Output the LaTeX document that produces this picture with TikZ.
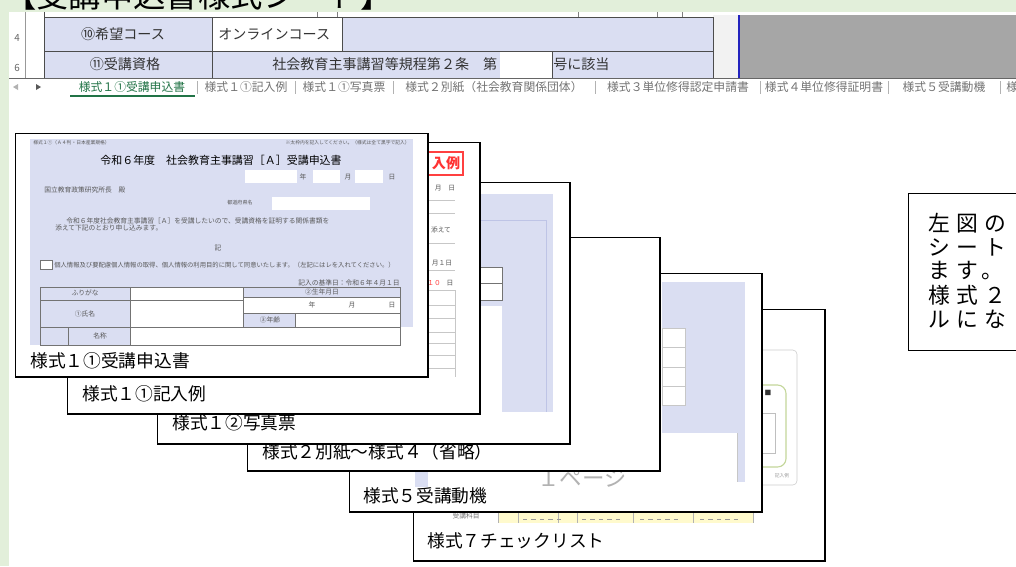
\documentclass[tikz,border=0pt]{standalone}
\usepackage{fontspec}
\setmainfont{Noto Sans CJK JP}
\definecolor{bggreen}{RGB}{226,239,218}
\definecolor{lav}{RGB}{218,222,242}
\definecolor{lavdark}{RGB}{190,196,230}
\definecolor{sheetgray}{RGB}{166,166,166}
\definecolor{xlgreen}{RGB}{33,115,70}
\definecolor{bluebar}{RGB}{35,35,190}
\definecolor{chkyellow}{RGB}{255,250,205}
\definecolor{olive}{RGB}{196,215,155}
\begin{document}
\begin{tikzpicture}[x=0.025cm,y=-0.025cm,
    sheet/.style={draw=black,line width=0.6pt,fill=white},
    shade/.style={line width=1.7pt},
    lbl/.style={anchor=west,inner sep=0pt,font=\fontsize{12.6}{14}\selectfont},
    cell/.style={inner sep=0pt,font=\fontsize{10}{12}\selectfont,text=black!80},
    tab/.style={inner sep=0pt,font=\fontsize{8.4}{10}\selectfont,text=black!55},
    tiny/.style={inner sep=0pt,font=\fontsize{4.8}{5.5}\selectfont,text=black!65},
    grid/.style={draw=black!55,line width=0.3pt},
    faint/.style={draw=black!22,line width=0.4pt}]
\useasboundingbox (0,0) rectangle (1016,566);
\fill[bggreen] (0,0) rectangle (1016,566);
\node[anchor=base west,inner sep=0pt,font=\fontsize{23}{26}\selectfont] (head) at (4,7) {【受講申込書様式シート】};
\fill[white] (9,12) rectangle (1016,566);

% spreadsheet strip
\fill[lav] (44,17) rectangle (713,78);
\fill[white] (212,17) rectangle (342,51);
\fill[white] (500,51) rectangle (552,78);
\fill[black!5] (713,15) rectangle (738,78);
\fill[sheetgray] (740,15) rectangle (1016,78);
\draw[bluebar,line width=1.2pt] (739,15) -- (739,78);
\draw[black!40] (25,12) -- (25,78);
\draw[black!70] (44,12) -- (44,78);
\draw[black!70] (44,17) -- (713,17);
\draw[black!70] (44,51) -- (713,51);
\draw[black!60] (9,78) -- (1016,78);
\foreach \tx in {212,713} \draw[black!70] (\tx,17) -- (\tx,78);
\draw[black!70] (342,17) -- (342,51);
\draw[black!70] (552,51) -- (552,78);
\foreach \tx in {317,337,578,657,682} \draw[black!50] (\tx,12) -- (\tx,17);
\node[inner sep=0pt,font=\fontsize{7}{8}\selectfont,text=black!60] (r4) at (17,38) {4};
\node[inner sep=0pt,font=\fontsize{7}{8}\selectfont,text=black!60] (r6) at (17,68) {6};
\node[cell] (kibou) at (123,34) {⑩希望コース};
\node[cell,anchor=west] (online) at (218,34) {オンラインコース};
\node[cell] (shikaku) at (125,64) {⑪受講資格};
\node[cell,anchor=west] (kitei) at (272,64) {社会教育主事講習等規程第２条　第};
\node[cell,anchor=west] (gaitou) at (553,64) {号に該当};

% tab bar
\fill[black!30] (13,87) -- (18,84) -- (18,90) -- cycle;
\fill[black!65] (41,87) -- (36,84) -- (36,90) -- cycle;
\node[tab,text=xlgreen] (t1) at (132,87) {様式１①受講申込書};
\draw[xlgreen,line width=1.4pt] (70,96) -- (195,96);
\node[tab] (t2) at (246,87) {様式１①記入例};
\node[tab] (t3) at (344,87) {様式１①写真票};
\node[tab] (t4) at (494,87) {様式２別紙（社会教育関係団体）};
\node[tab] (t5) at (678,87) {様式３単位修得認定申請書};
\node[tab] (t6) at (824,87) {様式４単位修得証明書};
\node[tab] (t7) at (944,87) {様式５受講動機};
\node[tab,anchor=west] (t8) at (1006,87) {様};
\foreach \tx in {197,295,393,595,760,888,1000} \draw[black!30] (\tx,81) -- (\tx,94);

% page 6
\draw[sheet] (413,309) rectangle (825,561);
\draw[shade] (413,561) -| (825,309);
\draw[black!20,rounded corners=3] (700,350) rectangle (797,485);
\draw[olive,line width=0.8pt,rounded corners=6] (720,385) rectangle (786,467);
\draw[black!25] (742,413) rectangle (775,453);
\node[tiny,text=black!80] (p6a) at (768,393) {■};
\node[tiny,text=black!40,font=\fontsize{3.4}{4}\selectfont] (p6b) at (782,476) {記入例};
\fill[chkyellow] (498,505) rectangle (753,523);
\foreach \tx in {498,518,558,577,633,693,753} \draw[black!30] (\tx,505) -- (\tx,523);
\foreach \tx in {523,582,640,700} \draw[black!40,dashed,line width=0.3pt] (\tx,519) -- ++(40,0);
\node[tiny,text=black!55] (p6c) at (466,516) {受講科目};
\node[lbl] (l6) at (427,541) {様式７チェックリスト};

% page 5
\draw[sheet] (349,273) rectangle (762,512);
\draw[shade] (349,512) -| (762,273);
\fill[lav] (662,282) rectangle (745,433);
\fill[lav] (737,433) rectangle (745,482);
\draw[faint] (737,433) -- (737,482);
\fill[white] (662,328) rectangle (685,405);
\draw[faint] (662,328) rectangle (685,405);
\foreach \ty in {347,367,386} \draw[faint] (662,\ty) -- (685,\ty);
\fill[lav] (415,471) rectangle (428,487);
\node[inner sep=0pt,font=\fontsize{16}{18}\selectfont,text=black!30] (page1) at (582,478) {１ページ};
\node[lbl] (l5) at (363,496) {様式５受講動機};

% page 4
\draw[sheet] (247,237) rectangle (660,471);
\draw[shade] (247,471) -| (660,237);
\node[lbl] (l4) at (262,452) {様式２別紙～様式４（省略）};

% page 3
\draw[sheet] (157,182) rectangle (570,444);
\draw[shade] (157,444) -| (570,182);
\fill[lav] (480,194) rectangle (553,412);
\draw[lavdark] (480,220) -- (546,220) -- (546,412);
\fill[white] (480,267) rectangle (502,300);
\draw[grid] (480,267) rectangle (502,300);
\draw[grid] (480,283) -- (502,283);
\fill[white] (480,306) rectangle (502,412);
\node[lbl] (l3) at (172,423) {様式１②写真票};

% page 2
\draw[sheet] (67,142) rectangle (480,414);
\draw[shade] (67,414) -| (480,142);
\draw[red!75,line width=0.8pt] (428,152) rectangle (463,175);
\node[inner sep=0pt,font=\fontsize{10}{12}\selectfont\bfseries,text=red!80] (nyurei) at (446,163) {入例};
\foreach \ty in {200,213,243,270,290,305,318,332,343,355,368} \draw[faint] (428,\ty) -- (455,\ty);
\draw[faint] (455,290) -- (455,377);
\node[tiny] (p2a) at (445,188) {月　日};
\node[tiny] (p2b) at (441,230) {添えて};
\node[tiny] (p2c) at (442,263) {月１日};
\node[tiny,text=red!80] (p2d) at (434,283) {１０};
\node[tiny] (p2e) at (450,283) {日};
\node[lbl] (l2) at (82,394) {様式１①記入例};

% page 1
\draw[sheet] (15,133) rectangle (428,377);
\draw[shade] (15,377) -| (428,133);
\fill[lav] (30,139) rectangle (413,345);
\node[tiny,anchor=west,font=\fontsize{3.4}{4}\selectfont] (f1) at (33,143) {様式１①（Ａ４判・日本産業規格）};
\node[tiny,anchor=east,font=\fontsize{3.4}{4}\selectfont] (f2) at (410,143) {※太枠内を記入してください。（様式は全て黒字で記入）};
\node[inner sep=0pt,font=\fontsize{7.8}{9}\selectfont] (title) at (221,160) {令和６年度　社会教育主事講習［Ａ］受講申込書};
\fill[white] (245,170) rectangle (297,183);
\fill[white] (313,170) rectangle (340,183);
\fill[white] (355,170) rectangle (383,183);
\node[tiny] (fy) at (303,177) {年};
\node[tiny] (fm) at (348,177) {月};
\node[tiny] (fd) at (392,177) {日};
\node[tiny,anchor=west] (f3) at (44,190) {国立教育政策研究所長　殿};
\node[tiny,font=\fontsize{3.6}{4}\selectfont] (f4) at (240,203) {都道府県名};
\fill[white] (272,197) rectangle (370,210);
\node[tiny,anchor=west] (f5) at (66,221) {令和６年度社会教育主事講習［Ａ］を受講したいので、受講資格を証明する関係書類を};
\node[tiny,anchor=west] (f6) at (55,228) {添えて下記のとおり申し込みます。};
\node[tiny] (f7) at (218,248) {記};
\fill[white] (40,260) rectangle (52,269);
\draw[grid] (40,260) rectangle (52,269);
\node[tiny,anchor=west,font=\fontsize{4.5}{5}\selectfont] (f8) at (54,265) {個人情報及び要配慮個人情報の取得、個人情報の利用目的に関して同意いたします。（左記にはレを入れてください。）};
\node[tiny,anchor=east] (f9) at (400,283) {記入の基準日：令和６年４月１日};
\draw[grid] (296,287) -- (400,287);
% form table
\fill[white] (130,287) rectangle (243,327);
\fill[white] (243,297) rectangle (400,313);
\fill[white] (295,313) rectangle (400,327);
\fill[white] (130,327) rectangle (413,345);
\draw[grid] (40,287) rectangle (400,345);
\draw[grid] (40,300) -- (243,300);
\draw[grid] (40,327) -- (400,327);
\draw[grid] (243,297) -- (400,297);
\draw[grid] (243,313) -- (400,313);
\draw[grid] (130,287) -- (130,345);
\draw[grid] (243,287) -- (243,327);
\draw[grid] (295,313) -- (295,327);
\draw[grid] (68,327) -- (68,345);
\node[tiny] (f10) at (85,293) {ふりがな};
\node[tiny] (f11) at (85,314) {①氏名};
\node[tiny] (f12) at (100,336) {名称};
\node[tiny] (f13) at (322,292) {②生年月日};
\node[tiny] (f14) at (312,305) {年};
\node[tiny] (f15) at (352,305) {月};
\node[tiny] (f16) at (392,305) {日};
\node[tiny] (f17) at (270,320) {③年齢};
\node[lbl] (l1) at (30,361) {様式１①受講申込書};

% note box at right
\draw[line width=0.7pt] (908,193) rectangle (1030,350);
\begin{scope}[every node/.style={anchor=west,inner sep=0pt,font=\fontsize{15.5}{17}\selectfont\addfontfeature{LetterSpace=28}}]
  \node (n1) at (928,223) {左図の};
  \node (n2) at (928,247) {シート};
  \node (n3) at (928,271) {ます。};
  \node (n4) at (928,295) {様式２};
  \node (n5) at (928,319) {ルにな};
\end{scope}
\end{tikzpicture}
\end{document}
